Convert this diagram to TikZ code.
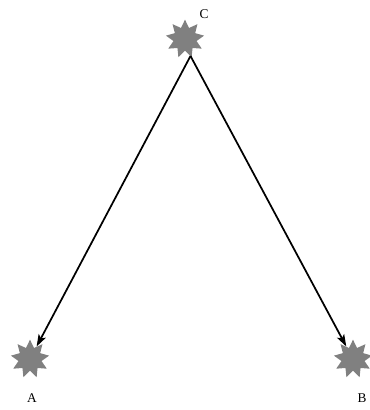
\documentclass[tikz,border=0pt]{standalone}
\usepackage{fontspec}
\setmainfont{Liberation Serif}
\usetikzlibrary{shapes.geometric,arrows.meta}
\begin{document}
\begin{tikzpicture}[x=0.75pt,y=-0.75pt,
  burst/.style={star, star points=9, star point ratio=1.65, minimum size=29pt, inner sep=0pt, fill=gray, draw=none},
  lbl/.style={font=\fontsize{10}{12}\selectfont, inner sep=0pt},
  conn/.style={-{Stealth[length=9pt,width=6pt,inset=2pt]}, line width=1.3pt}]
\useasboundingbox (0,0) rectangle (369,410);
\node[burst] (C) at (185,39) {};
\node[burst] (A) at (30,359) {};
\node[burst] (B) at (353,359) {};
\coordinate (Cs) at (190.5,56);
\node[lbl] (lC) at (204,14) {C};
\node[lbl] (lA) at (32,398) {A};
\node[lbl] (lB) at (362,398) {B};
\draw[conn] (Cs) -- (A);
\draw[conn] (Cs) -- (B);
\end{tikzpicture}
\end{document}
